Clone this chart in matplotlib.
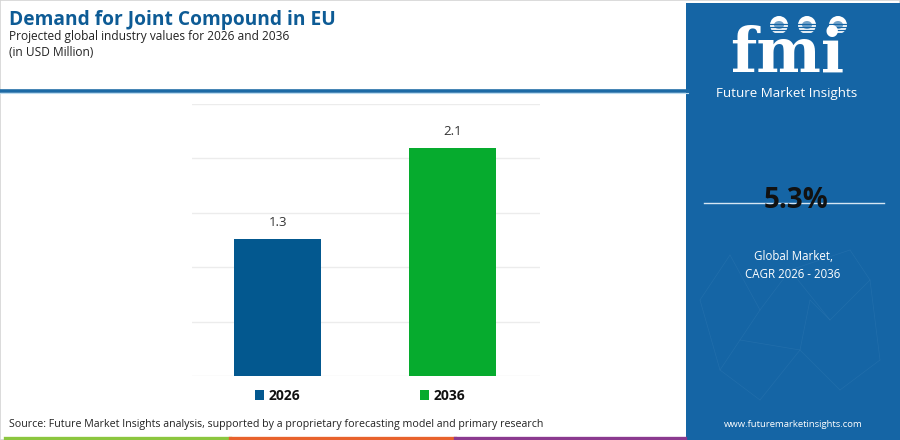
import matplotlib
matplotlib.use("Agg")
import matplotlib.pyplot as plt
from matplotlib.patches import Rectangle, Ellipse
from matplotlib.lines import Line2D

# ---- data ----
years = ["2026", "2036"]
values = [1.26, 2.1]
bar_colors = ["#03588f", "#06ab2e"]
y_ticks = [0, 0.5, 1.0, 1.5, 2.0, 2.5]
title = "Demand for Joint Compound in EU"
subtitle1 = "Projected global industry values for 2026 and 2036"
subtitle2 = "(in USD Million)"
cagr = "5.3%"
cagr_label = "Global Market,\nCAGR 2026 - 2036"
source = "Source: Future Market Insights analysis, supported by a proprietary forecasting model and primary research"
url = "www.futuremarketinsights.com"

W, H = 900, 440
plt.rcParams['font.family'] = ['Open Sans', 'DejaVu Sans']
fig = plt.figure(figsize=(9, 4.4), dpi=100)
fig.patch.set_facecolor("white")

def fx(px):
    return px / W

def fy(py):
    return (H - py) / H

# figure border
fig.add_artist(Rectangle((0, 0), 1, 1, transform=fig.transFigure, fill=False,
                         edgecolor="#d4d4d4", linewidth=1.2))

# header texts
fig.text(fx(9), fy(19.5), title, fontsize=13.8, fontweight="bold", color="#0d5b95",
         ha="left", va="center")
fig.text(fx(9), fy(36.5), subtitle1, fontsize=8.6, color="#222222", ha="left", va="center")
fig.text(fx(9), fy(52), subtitle2, fontsize=8.6, color="#222222", ha="left", va="center")

# header rule
fig.add_artist(Line2D([0, fx(688)], [fy(91), fy(91)], transform=fig.transFigure,
                      color="#1d6aa5", linewidth=2.6))
fig.add_artist(Line2D([0, fx(688)], [fy(93.5), fy(93.5)], transform=fig.transFigure,
                      color="#bcdcf0", linewidth=0.8))

# main chart
ax = fig.add_axes([fx(192), fy(376), fx(540) - fx(192), fy(104) - fy(376)])
x = list(range(len(years)))
bars = ax.bar(x, values, width=0.5, color=bar_colors, label=years, zorder=3)
ax.set_xlim(-0.49, 1.5)
ax.set_ylim(0, 2.5)
ax.set_yticks(y_ticks)
ax.yaxis.grid(True, color="#ececec", linewidth=1.0, zorder=0)
ax.set_axisbelow(True)
ax.set_xticks([])
ax.tick_params(axis="y", length=0, labelleft=False)
for s in ax.spines.values():
    s.set_visible(False)
for b, v in zip(bars, values):
    ax.annotate(f"{v:.1f}", (b.get_x() + b.get_width() / 2, v), xytext=(0, 7),
                textcoords="offset points", ha="center", va="bottom",
                fontsize=9.5, color="#333333")

leg = fig.legend(handles=list(bars), labels=years, loc="center",
                 bbox_to_anchor=(fx(360), fy(396)), ncol=2, frameon=False,
                 handlelength=0.65, handleheight=0.65, handletextpad=0.35,
                 columnspacing=8.6, prop={"weight": "bold", "size": 10})
for t in leg.get_texts():
    t.set_color("#111111")

# source
fig.text(fx(9), fy(424), source, fontsize=7.65, color="#222222", ha="left", va="center")

# bottom colour strip
for x0, x1, c in [(5, 230, "#8cc63f"), (230, 455, "#e8622c"), (455, 685, "#8b3a8f")]:
    fig.add_artist(Line2D([fx(x0), fx(x1)], [fy(437.5), fy(437.5)],
                          transform=fig.transFigure, color=c, linewidth=2.4))

# right panel
panel_color = "#1565a5"
fig.add_artist(Rectangle((fx(686), 0), fx(900) - fx(686), fy(3), transform=fig.transFigure,
                         facecolor=panel_color, edgecolor="none"))

# faint network lines
net_pts = [(700, 300), (730, 255), (760, 310), (790, 270), (830, 320), (870, 280),
           (880, 360), (840, 390), (800, 350), (760, 400), (720, 370), (850, 250),
           (740, 340), (810, 300)]
net_edges = [(0, 1), (1, 2), (2, 3), (3, 4), (4, 5), (5, 6), (6, 7), (7, 8), (8, 9),
             (9, 10), (10, 0), (3, 11), (11, 5), (12, 2), (12, 10), (13, 4), (13, 8),
             (8, 12)]
for a, b in net_edges:
    (x0, y0), (x1, y1) = net_pts[a], net_pts[b]
    fig.add_artist(Line2D([fx(x0), fx(x1)], [fy(y0), fy(y1)], transform=fig.transFigure,
                          color="#2f78b2", linewidth=0.5, alpha=0.45))

# logo
fig.text(fx(787), fy(72), "fmi", fontsize=44, fontweight="bold", family="DejaVu Serif",
         color="white", ha="center", va="baseline")
for yy in range(24, 76, 3):
    fig.add_artist(Line2D([fx(712), fx(862)], [fy(yy), fy(yy)], transform=fig.transFigure,
                          color=panel_color, linewidth=0.9))
for cx in (779, 807, 838):
    fig.add_artist(Ellipse((fx(cx), fy(25)), 18 / W, 18 / H, transform=fig.transFigure,
                           facecolor="white", edgecolor="none"))
    fig.add_artist(Ellipse((fx(cx), fy(25)), 10 / W, 8 / H, transform=fig.transFigure,
                           facecolor=panel_color, edgecolor="none", alpha=0.6))
fig.text(fx(787), fy(93.5), "Future Market Insights", fontsize=9.6, color="white",
         ha="center", va="center")

# CAGR
fig.add_artist(Line2D([fx(704), fx(884)], [fy(203), fy(203)], transform=fig.transFigure,
                      color="#d6e6f3", linewidth=1.0))
fig.text(fx(796), fy(200), cagr, fontsize=20, fontweight="bold", color="#111111",
         ha="center", va="center")
fig.text(fx(793), fy(266), cagr_label, fontsize=8.3, color="white", ha="center",
         va="center", linespacing=1.5)
fig.text(fx(793), fy(424), url, fontsize=6.8, color="white", ha="center", va="center")

fig.savefig("out.png", dpi=100)
